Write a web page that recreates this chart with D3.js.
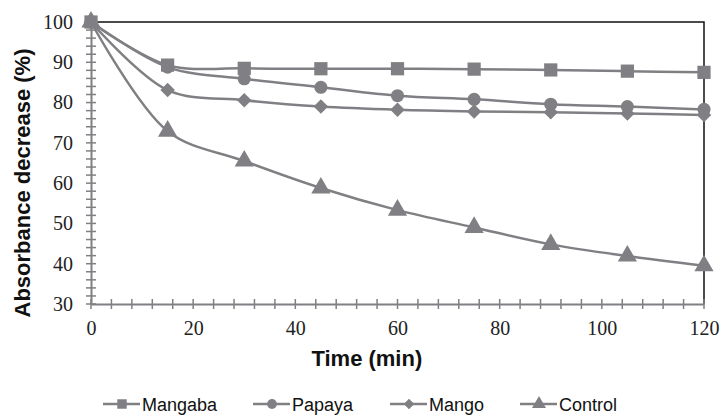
<!DOCTYPE html>
<html>
<head>
<meta charset="utf-8">
<script src="https://cdn.jsdelivr.net/npm/d3@7"></script>
<style>
  body { margin: 0; background: #fff; }
</style>
</head>
<body>
<div id="chart"></div>
<script>
// Data
const times = [0, 15, 30, 45, 60, 75, 90, 105, 120];
const mangaba = [100, 89.3, 88.5, 88.4, 88.4, 88.3, 88.1, 87.8, 87.5];
const papaya = [100, 88.8, 85.9, 83.8, 81.7, 80.8, 79.6, 79.0, 78.3];
const mango = [100, 83.1, 80.6, 79.0, 78.2, 77.8, 77.6, 77.3, 76.9];
const control = [100, 72.9, 65.5, 58.8, 53.3, 49.0, 44.8, 41.9, 39.5];
const seriesNames = ["Mangaba", "Papaya", "Mango", "Control"];
const yTicks = [30, 40, 50, 60, 70, 80, 90, 100];
const xTicks = [0, 20, 40, 60, 80, 100, 120];

const W = 720, H = 416;
const margin = {top: 22, right: 16, bottom: 112, left: 91};
const width = W - margin.left - margin.right,
    height = H - margin.top - margin.bottom;
const grey = "#808084";
const serif = "Liberation Serif, Times New Roman, serif";
const sans = "Liberation Sans, Arial, sans-serif";

// square, circle, diamond (rotated square), triangle
const seriesSymbols = [d3.symbolSquare, d3.symbolCircle, d3.symbolSquare, d3.symbolTriangle];
const symbolRotate = [0, 0, 45, 0];
const sizes = [175, 135, 105, 160];
const legendSizes = [90, 75, 55, 85];

const svg = d3.select("#chart")
    .append("svg")
    .attr("width", W)
    .attr("height", H)
    .append("g")
    .attr("transform", `translate(${margin.left},${margin.top})`);

const x = d3.scaleLinear().domain([0, 120]).range([0, width]);
const y = d3.scaleLinear().domain([30, 100]).range([height, 0]);

// top and right border
svg.append("path")
    .attr("d", `M0,${y(100)}H${x(120)}V${y(30)}`)
    .attr("fill", "none")
    .attr("stroke", "#111")
    .attr("stroke-width", 1.5);

// minor ticks (crossing the axes)
const yMinor = d3.range(30, 100.1, 2);
const xMinor = d3.range(0, 120.1, 4);
svg.append("g")
    .selectAll("line")
    .data(yMinor)
    .join("line")
    .attr("x1", -5).attr("x2", 5)
    .attr("y1", (d) => y(d)).attr("y2", (d) => y(d))
    .attr("stroke", grey).attr("stroke-width", 1.5);
svg.append("g")
    .selectAll("line")
    .data(xMinor)
    .join("line")
    .attr("y1", height - 5).attr("y2", height + 5)
    .attr("x1", (d) => x(d)).attr("x2", (d) => x(d))
    .attr("stroke", grey).attr("stroke-width", 1.5);

// axes
const yAxis = svg.append("g")
    .call(d3.axisLeft(y).tickValues(yTicks).tickSize(0).tickPadding(18));
const xAxis = svg.append("g")
    .attr("transform", `translate(0,${height})`)
    .call(d3.axisBottom(x).tickValues(xTicks).tickSize(0).tickPadding(17));
[xAxis, yAxis].forEach((a) => {
    a.attr("font-family", serif).attr("font-size", 20);
    a.select(".domain").attr("stroke", grey).attr("stroke-width", 2);
    a.selectAll("text")
        .attr("font-family", serif)
        .attr("font-size", 20)
        .attr("fill", "#222");
});

// axis titles
svg.append("text")
    .attr("text-anchor", "middle")
    .attr("transform", "rotate(-90)")
    .attr("x", -(y(65) + 20))
    .attr("y", -61)
    .attr("font-family", sans)
    .attr("font-size", 22)
    .attr("font-weight", "bold")
    .attr("fill", "#111")
    .text("Absorbance decrease (%)");

svg.append("text")
    .attr("text-anchor", "middle")
    .attr("x", x(54))
    .attr("y", height + 62)
    .attr("font-family", sans)
    .attr("font-size", 22)
    .attr("font-weight", "bold")
    .attr("fill", "#111")
    .text("Time (min)");

// series
const allSeries = [mangaba, papaya, mango, control];
const line = d3.line()
    .x((d, i) => x(times[i]))
    .y((d) => y(d))
    .curve(d3.curveCatmullRom.alpha(0.5));

allSeries.forEach((vals) => {
    svg.append("path")
        .datum(vals)
        .attr("fill", "none")
        .attr("stroke", grey)
        .attr("stroke-width", 2.5)
        .attr("d", line);
});
allSeries.forEach((vals, k) => {
    svg.append("g")
        .selectAll("path")
        .data(vals)
        .join("path")
        .attr("transform", (d, i) => `translate(${x(times[i])},${y(d)}) rotate(${symbolRotate[k]})`)
        .attr("d", d3.symbol().type(seriesSymbols[k]).size(sizes[k]))
        .attr("fill", grey);
});

// legend
const legendX = [12, 162, 299, 429];
const legend = svg.append("g")
    .attr("transform", `translate(0,${height + 100})`);
seriesNames.forEach((name, k) => {
    const g = legend.append("g").attr("transform", `translate(${legendX[k]},0)`);
    g.append("line")
        .attr("x1", 0).attr("x2", 37)
        .attr("y1", 0).attr("y2", 0)
        .attr("stroke", grey).attr("stroke-width", 2.5);
    g.append("path")
        .attr("transform", `translate(19,0) rotate(${symbolRotate[k]})`)
        .attr("d", d3.symbol().type(seriesSymbols[k]).size(legendSizes[k]))
        .attr("fill", grey);
    g.append("text")
        .attr("x", 39)
        .attr("y", 7)
        .attr("font-family", sans)
        .attr("font-size", 18)
        .attr("fill", "#111")
        .text(name);
});
</script>
</body>
</html>
